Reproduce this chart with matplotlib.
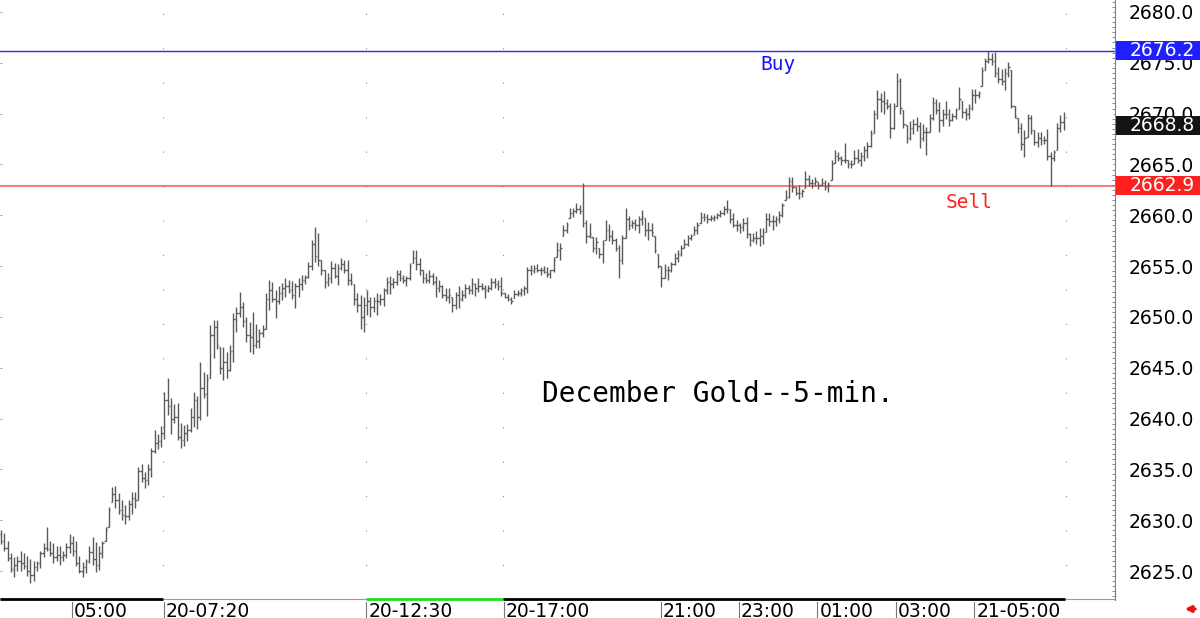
import matplotlib
matplotlib.use('Agg')
import matplotlib.pyplot as plt
import matplotlib.transforms as mtransforms
from matplotlib.collections import LineCollection
from matplotlib.patches import Rectangle
from matplotlib.ticker import MultipleLocator

# December gold, 5-minute bars, 20th 03:10 -> 21st 07:15 (CT), one-hour break at 16:00
highs = [
    2629.0, 2628.7, 2628.0, 2626.8, 2626.4, 2626.5, 2627.0, 2626.8, 2626.5, 2626.2,
    2626.0, 2626.0, 2627.0, 2627.8, 2629.3, 2628.0, 2627.8, 2627.5, 2627.5, 2627.0,
    2627.8, 2628.6, 2628.4, 2628.0, 2626.5, 2625.9, 2626.2, 2627.5, 2628.3, 2627.9,
    2627.5, 2628.0, 2629.3, 2631.3, 2633.3, 2633.4, 2632.7, 2632.0, 2631.5, 2632.0,
    2632.8, 2632.8, 2635.2, 2635.5, 2634.7, 2635.5, 2637.1, 2638.9, 2638.5, 2639.3,
    2642.6, 2644.0, 2642.0, 2641.4, 2641.5, 2639.6, 2639.4, 2639.5, 2641.0, 2642.6,
    2642.2, 2645.6, 2644.6, 2644.4, 2649.2, 2649.7, 2649.7, 2647.0, 2647.0, 2646.5,
    2647.2, 2650.4, 2651.0, 2652.5, 2651.5, 2650.0, 2649.5, 2650.5, 2649.3, 2648.8,
    2649.2, 2652.4, 2653.6, 2653.4, 2652.6, 2653.0, 2653.3, 2653.8, 2653.6, 2653.5,
    2653.3, 2653.8, 2654.1, 2654.1, 2655.4, 2657.6, 2658.8, 2658.3, 2655.6, 2654.6,
    2654.3, 2655.5, 2655.3, 2655.2, 2655.8, 2655.6, 2655.6, 2654.3, 2653.2, 2652.4,
    2652.2, 2652.0, 2652.6, 2652.0, 2652.0, 2652.4, 2652.3, 2652.8, 2653.9, 2654.0,
    2653.8, 2654.6, 2654.6, 2654.1, 2654.0, 2655.3, 2656.6, 2656.6, 2655.8, 2654.6,
    2654.3, 2654.6, 2654.3, 2654.0, 2653.6, 2653.1, 2652.8, 2652.8, 2652.0, 2652.5,
    2653.0, 2652.6, 2653.2, 2653.1, 2653.8, 2653.3, 2653.8, 2653.3, 2653.1, 2653.1,
    2653.8, 2653.8, 2653.6, 2653.9, 2652.4, 2652.3, 2652.0, 2652.6, 2652.6, 2652.8,
    2653.0, 2654.9, 2655.1, 2655.1, 2655.2, 2654.9, 2655.0, 2654.9, 2654.6, 2655.9,
    2657.4, 2657.3, 2659.0, 2659.3, 2660.7, 2660.7, 2661.2, 2661.0, 2663.2, 2659.5,
    2659.2, 2657.9, 2657.9, 2656.8, 2657.6, 2659.5, 2659.1, 2658.6, 2657.8, 2657.1,
    2658.1, 2660.7, 2659.9, 2659.5, 2659.6, 2659.9, 2660.5, 2659.7, 2659.3, 2659.2,
    2658.0, 2656.2, 2655.0, 2655.2, 2655.0, 2655.4, 2656.3, 2656.6, 2657.1, 2657.7,
    2658.1, 2658.2, 2658.9, 2659.3, 2660.3, 2660.2, 2660.1, 2660.0, 2660.0, 2660.2,
    2660.5, 2660.9, 2661.5, 2660.6, 2660.2, 2659.5, 2659.2, 2659.7, 2659.8, 2658.3,
    2658.3, 2658.5, 2658.7, 2658.7, 2660.2, 2660.2, 2660.0, 2659.9, 2660.4, 2661.2,
    2662.5, 2663.8, 2663.8, 2662.8, 2663.0, 2662.6, 2664.4, 2664.0, 2663.6, 2663.8,
    2663.3, 2663.7, 2663.5, 2663.3, 2665.4, 2666.4, 2666.2, 2665.8, 2667.1, 2665.4,
    2665.4, 2666.4, 2666.5, 2666.2, 2666.8, 2667.2, 2668.4, 2670.4, 2672.3, 2672.0,
    2672.2, 2671.4, 2671.0, 2671.0, 2674.0, 2673.5, 2670.4, 2668.9, 2669.3, 2669.5,
    2669.7, 2669.2, 2669.0, 2668.7, 2670.0, 2671.6, 2671.4, 2671.1, 2670.5, 2671.2,
    2670.5, 2670.1, 2670.6, 2672.6, 2671.2, 2670.6, 2670.9, 2672.4, 2672.4, 2672.2,
    2674.6, 2675.5, 2676.2, 2676.0, 2676.1, 2674.6, 2674.4, 2674.5, 2675.1, 2674.3,
    2670.8, 2669.6, 2669.1, 2668.4, 2670.0, 2669.9, 2668.4, 2668.2, 2668.2, 2667.8,
    2668.5, 2666.2, 2666.4, 2669.1, 2669.9, 2670.2,
]
lows = [
    2627.7, 2627.0, 2626.0, 2624.9, 2624.4, 2625.0, 2625.0, 2625.2, 2624.5, 2623.8,
    2624.0, 2625.0, 2625.3, 2626.4, 2627.0, 2626.5, 2625.8, 2626.0, 2625.6, 2626.0,
    2626.3, 2626.8, 2626.5, 2625.5, 2624.8, 2624.4, 2624.8, 2625.8, 2625.6, 2624.9,
    2625.1, 2626.3, 2628.0, 2629.3, 2631.8, 2631.2, 2630.6, 2630.0, 2629.6, 2630.0,
    2630.6, 2631.2, 2632.0, 2633.8, 2633.2, 2633.5, 2634.3, 2636.6, 2637.0, 2637.2,
    2638.0, 2640.4, 2638.5, 2639.6, 2637.9, 2637.1, 2637.3, 2637.8, 2638.7, 2639.2,
    2639.0, 2639.9, 2642.0, 2640.3, 2644.0, 2646.0, 2646.8, 2644.4, 2643.8, 2644.0,
    2644.7, 2645.6, 2648.5, 2650.0, 2649.0, 2647.5, 2646.5, 2646.4, 2646.9, 2646.9,
    2648.0, 2648.8, 2650.7, 2651.5, 2649.9, 2651.3, 2651.7, 2652.0, 2652.4, 2651.8,
    2650.9, 2652.0, 2652.6, 2653.2, 2653.8, 2654.6, 2655.4, 2655.0, 2654.1, 2652.8,
    2653.0, 2653.3, 2653.8, 2653.1, 2654.6, 2654.3, 2653.1, 2653.1, 2651.2, 2650.5,
    2648.8, 2648.5, 2650.2, 2650.0, 2650.5, 2650.2, 2651.2, 2651.1, 2652.3, 2652.3,
    2652.8, 2653.1, 2653.5, 2653.3, 2653.0, 2653.6, 2655.3, 2654.6, 2654.1, 2653.3,
    2653.3, 2653.3, 2653.1, 2652.0, 2652.5, 2651.9, 2651.6, 2651.4, 2650.5, 2650.8,
    2650.9, 2651.6, 2651.9, 2652.3, 2652.3, 2652.1, 2652.5, 2652.6, 2651.9, 2652.5,
    2652.6, 2652.8, 2652.6, 2652.1, 2651.9, 2651.6, 2651.3, 2651.9, 2652.1, 2652.1,
    2652.2, 2652.4, 2654.1, 2654.3, 2654.4, 2654.1, 2654.3, 2653.9, 2653.8, 2654.4,
    2655.9, 2655.6, 2658.0, 2658.3, 2659.7, 2659.8, 2660.2, 2660.1, 2658.8, 2657.3,
    2657.8, 2656.4, 2656.2, 2655.8, 2655.3, 2657.6, 2657.5, 2657.2, 2656.5, 2653.8,
    2655.2, 2657.8, 2658.6, 2658.7, 2658.6, 2658.3, 2659.0, 2658.0, 2657.6, 2658.0,
    2656.3, 2654.8, 2652.9, 2653.8, 2653.6, 2654.4, 2655.1, 2655.4, 2656.0, 2656.8,
    2657.0, 2657.6, 2658.1, 2658.2, 2659.2, 2659.4, 2659.2, 2659.4, 2659.4, 2659.6,
    2659.8, 2660.0, 2660.2, 2659.2, 2658.8, 2658.5, 2658.3, 2658.5, 2657.8, 2657.0,
    2657.4, 2657.2, 2657.0, 2657.2, 2658.4, 2658.9, 2658.6, 2658.9, 2659.2, 2659.8,
    2661.5, 2661.7, 2662.3, 2662.0, 2661.6, 2661.8, 2662.7, 2662.9, 2662.7, 2662.9,
    2662.6, 2662.9, 2662.5, 2662.3, 2663.5, 2665.1, 2665.3, 2664.9, 2665.1, 2664.7,
    2664.7, 2665.0, 2665.1, 2664.8, 2665.3, 2665.6, 2666.7, 2668.1, 2669.5, 2670.2,
    2670.0, 2670.5, 2667.6, 2668.5, 2670.8, 2670.0, 2668.6, 2667.1, 2667.4, 2668.0,
    2668.3, 2666.6, 2667.3, 2665.9, 2668.2, 2669.4, 2670.0, 2668.2, 2668.8, 2669.5,
    2668.8, 2669.3, 2669.5, 2670.5, 2669.6, 2669.4, 2669.5, 2670.4, 2671.0, 2671.5,
    2672.7, 2674.3, 2675.0, 2674.8, 2673.6, 2673.0, 2672.8, 2672.3, 2673.6, 2670.6,
    2669.6, 2668.1, 2666.4, 2665.7, 2667.7, 2668.0, 2666.9, 2666.7, 2666.9, 2667.0,
    2665.4, 2662.9, 2665.3, 2666.4, 2668.2, 2668.4,
]
closes = [
    2628.0, 2627.3, 2626.3, 2625.2, 2625.6, 2626.0, 2625.8, 2625.5, 2625.0, 2624.6,
    2625.4, 2625.8, 2626.8, 2627.3, 2627.2, 2626.8, 2626.4, 2626.6, 2626.4, 2626.6,
    2627.4, 2627.8, 2627.0, 2625.8, 2625.0, 2625.4, 2626.0, 2626.9, 2626.2, 2625.6,
    2626.8, 2627.8, 2629.0, 2631.0, 2632.6, 2632.0, 2631.0, 2630.5, 2630.4, 2631.6,
    2632.2, 2632.0, 2634.8, 2634.2, 2634.0, 2635.0, 2636.8, 2637.6, 2637.8, 2638.6,
    2641.8, 2641.2, 2640.0, 2640.2, 2638.2, 2637.9, 2638.6, 2638.9, 2640.2, 2641.8,
    2640.2, 2643.0, 2642.4, 2643.8, 2648.2, 2649.0, 2647.2, 2645.0, 2645.6, 2644.8,
    2646.6, 2649.8, 2650.4, 2651.0, 2649.6, 2648.2, 2648.0, 2647.2, 2647.6, 2648.4,
    2648.8, 2651.8, 2652.6, 2651.8, 2651.6, 2652.4, 2652.8, 2653.0, 2652.6, 2652.2,
    2653.0, 2653.2, 2653.6, 2653.9, 2655.0, 2657.2, 2656.0, 2655.6, 2654.6, 2653.4,
    2653.8, 2654.8, 2654.0, 2654.8, 2655.2, 2654.6, 2653.6, 2653.4, 2651.8, 2651.2,
    2650.0, 2651.2, 2651.6, 2651.0, 2651.6, 2651.6, 2651.8, 2652.6, 2653.4, 2653.2,
    2653.4, 2654.2, 2653.8, 2653.6, 2653.8, 2655.0, 2655.8, 2655.2, 2654.6, 2653.8,
    2653.6, 2654.0, 2653.4, 2652.8, 2653.0, 2652.2, 2652.0, 2652.2, 2651.2, 2652.2,
    2651.8, 2652.2, 2652.8, 2652.6, 2653.2, 2652.8, 2653.0, 2652.8, 2652.6, 2652.8,
    2653.4, 2653.2, 2653.0, 2652.4, 2652.0, 2651.8, 2651.6, 2652.3, 2652.4, 2652.6,
    2652.8, 2654.6, 2654.6, 2654.8, 2654.6, 2654.6, 2654.4, 2654.2, 2654.6, 2655.6,
    2656.6, 2656.8, 2658.6, 2659.0, 2660.2, 2660.4, 2660.6, 2660.4, 2659.2, 2658.0,
    2658.2, 2656.8, 2657.4, 2656.2, 2657.2, 2658.6, 2658.0, 2657.6, 2656.8, 2655.6,
    2657.8, 2659.6, 2659.0, 2659.2, 2659.0, 2659.6, 2659.8, 2658.6, 2658.6, 2658.4,
    2656.6, 2655.0, 2653.8, 2654.6, 2654.6, 2655.2, 2655.8, 2656.2, 2656.8, 2657.2,
    2657.8, 2658.0, 2658.6, 2659.0, 2659.8, 2659.8, 2659.6, 2659.7, 2659.8, 2660.0,
    2660.2, 2660.6, 2660.6, 2659.6, 2659.0, 2659.0, 2658.8, 2659.2, 2658.2, 2657.6,
    2657.8, 2657.8, 2658.0, 2658.4, 2659.6, 2659.4, 2659.4, 2659.6, 2660.0, 2661.0,
    2661.8, 2663.4, 2662.8, 2662.2, 2662.2, 2662.4, 2663.6, 2663.2, 2663.2, 2663.4,
    2663.0, 2663.2, 2662.8, 2663.0, 2665.0, 2665.8, 2665.6, 2665.4, 2665.4, 2665.0,
    2665.0, 2665.6, 2665.4, 2665.8, 2666.4, 2666.8, 2668.0, 2670.0, 2671.4, 2671.2,
    2671.0, 2670.8, 2668.6, 2670.6, 2673.2, 2670.6, 2669.0, 2667.6, 2668.6, 2669.0,
    2668.8, 2667.6, 2668.2, 2668.2, 2669.6, 2671.0, 2670.4, 2669.4, 2670.0, 2670.0,
    2669.4, 2669.8, 2670.4, 2671.4, 2670.2, 2670.0, 2670.6, 2671.8, 2671.8, 2672.0,
    2674.2, 2675.2, 2675.4, 2675.2, 2674.0, 2673.4, 2673.2, 2674.0, 2674.6, 2670.8,
    2669.8, 2668.6, 2667.0, 2667.6, 2669.6, 2668.4, 2667.2, 2667.6, 2667.4, 2667.4,
    2665.8, 2665.6, 2666.2, 2668.6, 2669.2, 2668.8,
]
first_open = 2628.6

time_labels = ['05:00', '20-07:20', '20-12:30', '20-17:00', '21:00',
               '23:00', '01:00', '03:00', '21-05:00']
time_label_bars = [22, 50, 112, 154, 202, 226, 250, 274, 298]
grid_bars = [50, 112, 154, 326]

price_ticks = [2625, 2630, 2635, 2640, 2645, 2650, 2655, 2660, 2665, 2670, 2675, 2680]
buy_level = 2676.2
sell_level = 2662.9
last_price = closes[-1]

# open = previous close (kept inside the bar)
opens = [first_open]
for i in range(1, len(closes)):
    opens.append(min(max(closes[i - 1], lows[i]), highs[i]))

fig = plt.figure(figsize=(12, 6.18), dpi=100)
ax = fig.add_axes([0, 18 / 618, 1115 / 1200, 600 / 618])
ax.set_xlim(-0.31, 340.7)
ax.set_ylim(2622.15, 2681.18)

segs = []
for i in range(len(highs)):
    segs.append([(i, lows[i]), (i, highs[i])])
    segs.append([(i - 0.45, opens[i]), (i, opens[i])])
    segs.append([(i, closes[i]), (i + 0.45, closes[i])])
ax.add_collection(LineCollection(segs, colors='#5a5a5a', linewidths=1.0, zorder=3))

# buy / sell levels
ax.axhline(buy_level, color='#2a2aff', lw=1.0, zorder=2)
ax.axhline(sell_level, color='#f03c3c', lw=1.1, alpha=0.85, zorder=2)

# dotted session grid
for b in grid_bars:
    ax.axvline(b - 0.35, color='#8a8a8a', lw=0.8, ls=(0, (1, 30)), zorder=1)

ax.text(237.6, 2674.8, 'Buy', color='#1414ff', fontsize=14, family='DejaVu Sans Mono',
        ha='center', va='center')
ax.text(296.0, 2661.3, 'Sell', color='#ff2020', fontsize=14, family='DejaVu Sans Mono',
        ha='center', va='center')
ax.text(219.3, 2642.4, 'December Gold--5-min.', color='black', fontsize=20,
        family='DejaVu Sans Mono', ha='center', va='center')

# axes styling
for s in ['top', 'left', 'bottom']:
    ax.spines[s].set_visible(False)
ax.spines['right'].set_color('#808080')
ax.spines['right'].set_linewidth(0.8)

ax.set_xticks([])
ax.set_yticks(price_ticks)
ax.set_yticklabels(['%.1f' % p for p in price_ticks])
ax.yaxis.set_minor_locator(MultipleLocator(0.5))
ax.yaxis.set_ticks_position('both')
ax.tick_params(axis='y', which='major', direction='in', length=5, width=0.7, color='#555555',
               labelright=True, labelleft=False, pad=10, labelsize=13.5)
ax.tick_params(axis='y', which='major', left=True, length=1.5, color='#999999')
ax.tick_params(axis='y', which='minor', direction='in', length=2, width=0.6,
               color='#777777', left=False, right=True)

# bottom time scale
bt = mtransforms.blended_transform_factory(ax.transData, ax.transAxes)
ax.plot([-0.31, 340.7], [0.002, 0.002], transform=bt, color='#9a9a9a', lw=0.8, clip_on=False)
ax.plot([-0.31, 49.5], [0.001, 0.001], transform=bt, color='black', lw=2.0, clip_on=False,
        solid_capstyle='butt')
ax.plot([111.6, 153.5], [0.001, 0.001], transform=bt, color='#22dd22', lw=2.0,
        clip_on=False, solid_capstyle='butt')
ax.plot([153.5, 325.4], [0.001, 0.001], transform=bt, color='black', lw=2.0, clip_on=False,
        solid_capstyle='butt')
ax.plot([340.6, 340.6], [0.0, 0.017], transform=bt, color='#9a9a9a', lw=0.8, clip_on=False)
for b, lab in zip(time_label_bars, time_labels):
    ax.plot([b - 0.3, b - 0.3], [-0.003, -0.032], transform=bt, color='#777777', lw=0.8,
            clip_on=False)
    ax.text(b + 0.35, -0.004, lab, transform=bt, fontsize=13.5, ha='left', va='top',
            clip_on=False)

# price boxes at the right edge
rt = mtransforms.blended_transform_factory(ax.transAxes, ax.transData)
for level, col in [(buy_level, '#1f1fff'), (last_price, '#141414'), (sell_level, '#ff1f1f')]:
    ax.add_patch(Rectangle((1.0012, level - 0.92), 0.08, 1.84, transform=rt,
                           facecolor=col, edgecolor='none', clip_on=False, zorder=6))
    ax.text(1.0134, level, '%.1f' % level, transform=rt, color='white', fontsize=13.5,
            ha='left', va='center', clip_on=False, zorder=7)

ax.annotate('', xy=(1182 / 1200, 9 / 618), xytext=(1198 / 1200, 9 / 618),
            xycoords='figure fraction', textcoords='figure fraction',
            arrowprops=dict(arrowstyle='-|>', color='#ee1111', lw=2.2, mutation_scale=9))

fig.savefig('out.png', dpi=100)
